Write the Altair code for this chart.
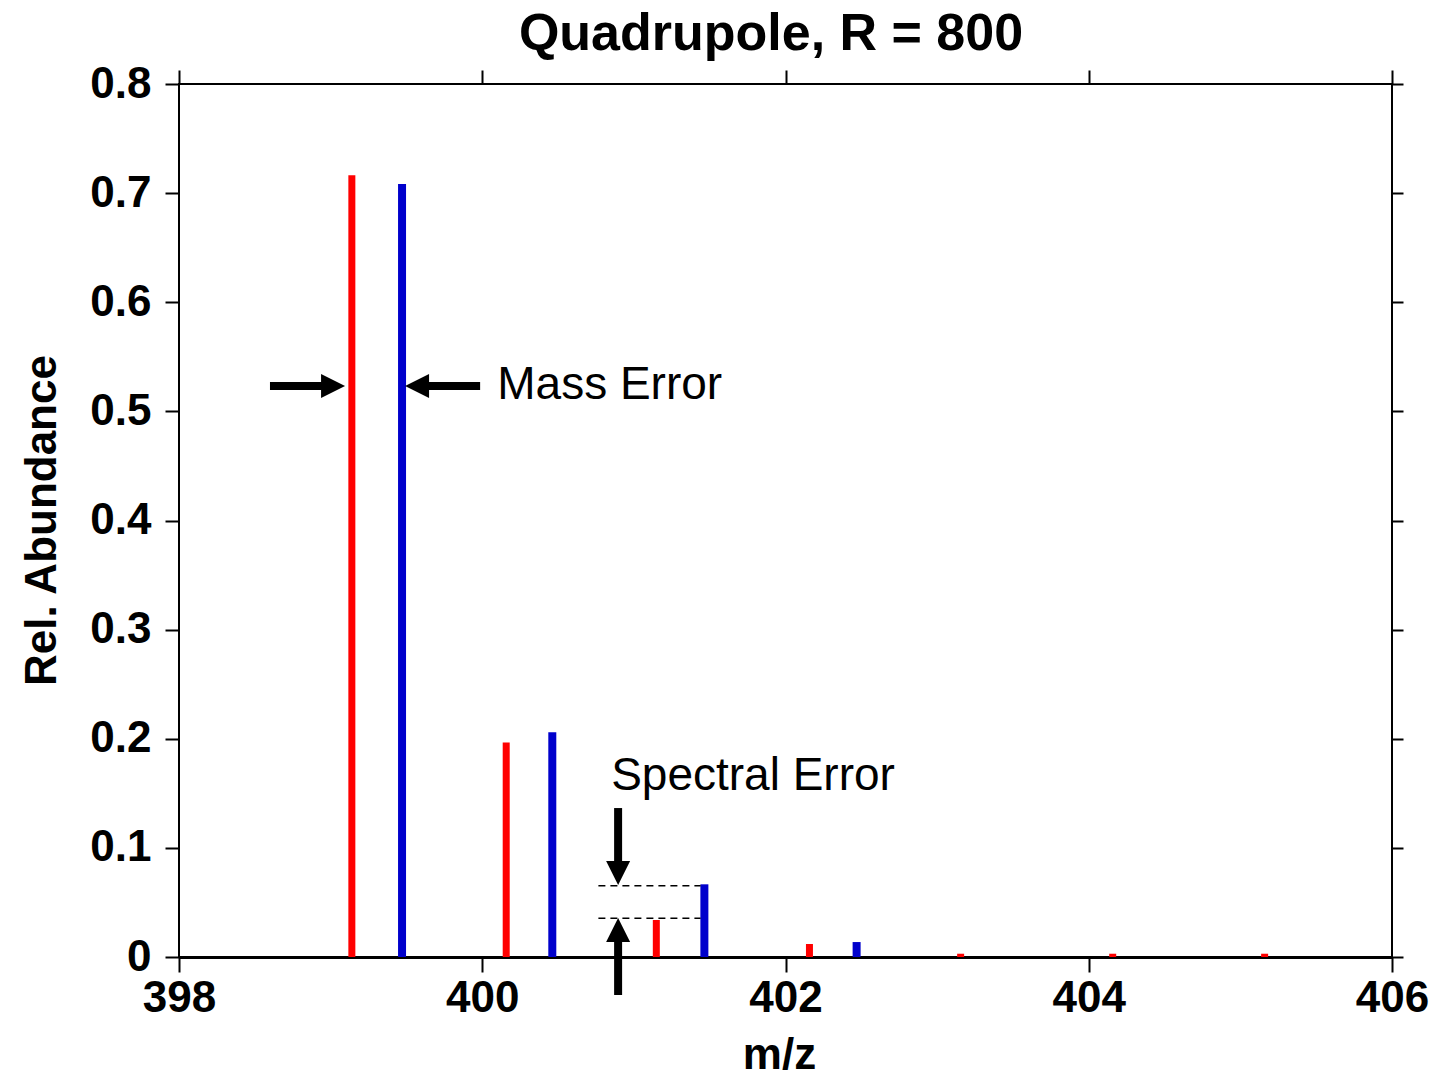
import altair as alt
import pandas as pd

# ---- data ----
red_mz = [399.14, 400.158, 401.148, 402.158, 403.155, 404.158, 405.16]
red_ab = [0.7163, 0.1966, 0.0339, 0.0119, 0.003, 0.003, 0.003]
blue_mz = [399.471, 400.462, 401.465, 402.469]
blue_ab = [0.7083, 0.206, 0.0666, 0.0137]

x_ticks = [398, 400, 402, 404, 406]
y_ticks = [0, 0.1, 0.2, 0.3, 0.4, 0.5, 0.6, 0.7, 0.8]

# annotation geometry (data units)
mass_y = 0.5233
mass_left_shaft = [398.60, 399.02]
mass_left_head = 399.016
mass_right_shaft = [399.57, 399.986]
mass_right_head = 399.57
spec_x = 400.896
spec_down_shaft = [0.1365, 0.077]
spec_down_head = 0.077
spec_up_shaft = [-0.0348, 0.0247]
spec_up_head = 0.0247
dash_y = [0.0653, 0.0354]
dash_x = [400.766, 401.44]
mass_text_pos = [400.099, 0.5113]
spec_text_pos = [400.85, 0.153]

FONT = "Liberation Sans"
XS = alt.Scale(domain=[398, 406], nice=False, padding=0)
YS = alt.Scale(domain=[0, 0.8], nice=False, padding=0)

red_df = pd.DataFrame({"mz": red_mz, "ab": red_ab})
blue_df = pd.DataFrame({"mz": blue_mz, "ab": blue_ab})

left_axis = alt.Axis(
    values=y_ticks, labelExpr="datum.value == 0 ? '0' : format(datum.value, '.1f')",
    labelFont=FONT, labelFontWeight="bold", labelFontSize=44, labelColor="black",
    labelPadding=14, tickColor="black", tickSize=14, tickWidth=2, domain=False, grid=False,
    title="Rel. Abundance", titleFont=FONT, titleFontSize=44, titleFontWeight="bold",
    titleColor="black", titleX=-124, titleY=436, titleAngle=270, titleBaseline="alphabetic",
    titleAlign="center",
)
bottom_axis = alt.Axis(
    values=x_ticks, format="d", labelFont=FONT, labelFontWeight="bold", labelFontSize=44,
    labelColor="black", labelPadding=4, labelFlush=False, tickColor="black", tickSize=15,
    tickWidth=2, domain=True, domainColor="black", domainWidth=3, grid=False,
    title="m/z", titleFont=FONT, titleFontSize=44, titleFontWeight="bold", titleColor="black",
    titleX=600, titleY=111, titleBaseline="alphabetic", titleAlign="center",
)
top_axis = alt.Axis(orient="top", values=x_ticks, labels=False, tickColor="black",
                    tickSize=14, tickWidth=2, domain=False, grid=False, title=None)
right_axis = alt.Axis(orient="right", values=y_ticks, labels=False, tickColor="black",
                      tickSize=11, tickWidth=2, domain=False, grid=False, title=None)

red_bars = alt.Chart(red_df).mark_bar(size=7, color="#ff0000").encode(
    x=alt.X("mz:Q", scale=XS, axis=bottom_axis),
    y=alt.Y("ab:Q", scale=YS, axis=left_axis),
)
blue_bars = alt.Chart(blue_df).mark_bar(size=8, color="#0000cc").encode(
    x=alt.X("mz:Q", scale=XS, axis=top_axis),
    y=alt.Y("ab:Q", scale=YS, axis=right_axis),
)

# arrow shafts
h_shafts = pd.DataFrame({
    "x": [mass_left_shaft[0], mass_right_shaft[0]],
    "x2": [mass_left_shaft[1], mass_right_shaft[1]],
    "y": [mass_y, mass_y],
})
h_rules = alt.Chart(h_shafts).mark_rule(color="black", strokeWidth=8).encode(
    x=alt.X("x:Q", scale=XS, axis=None), x2="x2:Q",
    y=alt.Y("y:Q", scale=YS, axis=None),
)
v_shafts = pd.DataFrame({
    "x": [spec_x, spec_x],
    "y": [spec_down_shaft[0], spec_up_shaft[0]],
    "y2": [spec_down_shaft[1], spec_up_shaft[1]],
})
v_rules = alt.Chart(v_shafts).mark_rule(color="black", strokeWidth=8).encode(
    x=alt.X("x:Q", scale=XS, axis=None),
    y=alt.Y("y:Q", scale=YS, axis=None), y2="y2:Q",
)

def head(x, y, path):
    return alt.Chart(pd.DataFrame({"x": [x], "y": [y]})).mark_point(
        shape=path, size=576, filled=True, color="black", opacity=1, strokeWidth=0
    ).encode(
        x=alt.X("x:Q", scale=XS, axis=None),
        y=alt.Y("y:Q", scale=YS, axis=None),
    )

heads = [
    head(mass_left_head, mass_y, "M-1,-1L1,0L-1,1Z"),
    head(mass_right_head, mass_y, "M1,-1L-1,0L1,1Z"),
    head(spec_x, spec_down_head, "M-1,-1L0,1L1,-1Z"),
    head(spec_x, spec_up_head, "M-1,1L0,-1L1,1Z"),
]

dash_df = pd.DataFrame({"x": [dash_x[0]] * 2, "x2": [dash_x[1]] * 2, "y": dash_y})
dashes = alt.Chart(dash_df).mark_rule(color="black", strokeWidth=1.5, strokeDash=[7, 5]).encode(
    x=alt.X("x:Q", scale=XS, axis=None), x2="x2:Q",
    y=alt.Y("y:Q", scale=YS, axis=None),
)

ann_df = pd.DataFrame({
    "x": [mass_text_pos[0], spec_text_pos[0]],
    "y": [mass_text_pos[1], spec_text_pos[1]],
    "t": ["Mass Error", "Spectral Error"],
})
ann = alt.Chart(ann_df).mark_text(
    font=FONT, fontSize=46, align="left", baseline="alphabetic", color="black"
).encode(
    x=alt.X("x:Q", scale=XS, axis=None),
    y=alt.Y("y:Q", scale=YS, axis=None),
    text="t:N",
)

title = alt.Chart(pd.DataFrame({"t": ["Quadrupole, R = 800"]})).mark_text(
    font=FONT, fontSize=52, fontWeight="bold", align="center", baseline="alphabetic",
    color="black"
).encode(x=alt.value(592), y=alt.value(-34), text="t:N")

chart = alt.layer(
    red_bars, blue_bars, h_rules, v_rules, *heads, dashes, ann, title
).resolve_axis(x="independent", y="independent").properties(
    width=1213, height=873,
    autosize=alt.AutoSizeParams(type="none"),
    padding={"left": 179, "top": 84, "right": 45, "bottom": 121},
    background="white",
).configure_view(stroke="black", strokeWidth=2)

chart.save("out.html", embed_options={"renderer": "svg", "actions": False})
